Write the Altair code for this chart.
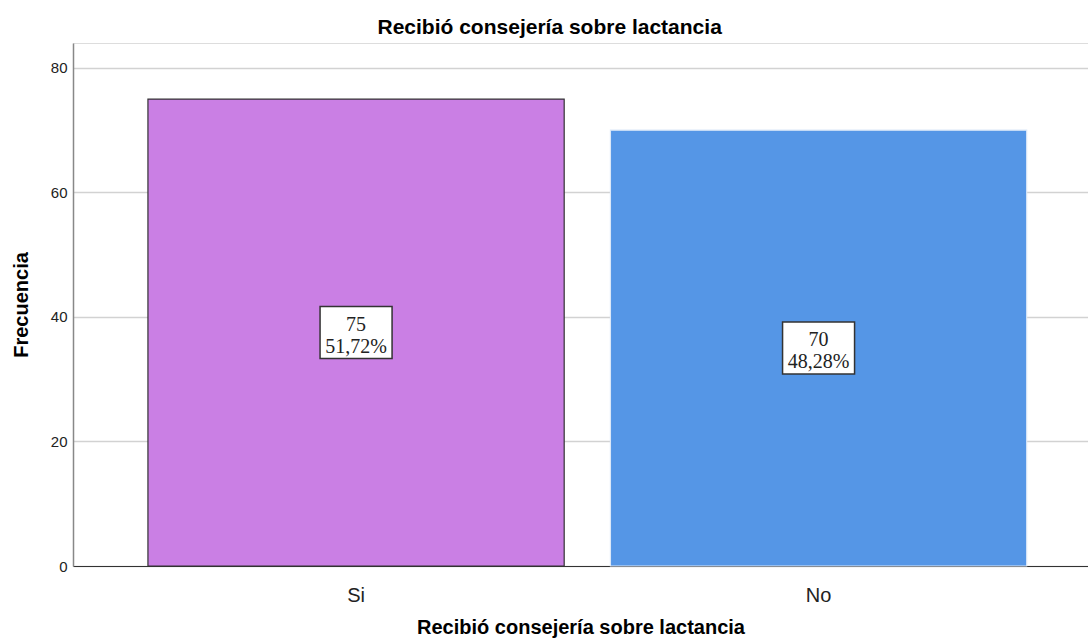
import altair as alt
import pandas as pd

categories = ["Si", "No"]
counts = [75, 70]
percents = ["51,72%", "48,28%"]
bar_colors = ["#CA7FE4", "#5596E6"]
bar_strokes = ["#333333", "#dce8f8"]

df = pd.DataFrame({
    "cat": categories,
    "n": counts,
    "pct": percents,
    "color": bar_colors,
    "stroke": bar_strokes,
})
df["mid"] = df["n"] / 2
df["label"] = df["n"].astype(str) + "\n" + df["pct"]

title_text = "Recibió consejería sobre lactancia"

x_enc = alt.X(
    "cat:N",
    sort=categories,
    scale=alt.Scale(paddingInner=0.1, paddingOuter=0.1473, align=0.55),
    axis=alt.Axis(
        title=title_text,
        labelAngle=0,
        labelFontSize=20,
        labelFont="Liberation Sans",
        labelColor="#222222",
        labelPadding=19,
        ticks=False,
        domainColor="#333333",
        domainWidth=1.2,
        titleFont="Liberation Sans",
        titleFontSize=20,
        titleFontWeight="bold",
        titleColor="#000000",
        titlePadding=12,
    ),
)

y_scale = alt.Scale(domain=[0, 84], nice=False)

bars = alt.Chart(df).mark_bar(strokeWidth=1.2).encode(
    x=x_enc,
    y=alt.Y(
        "n:Q",
        scale=y_scale,
        axis=alt.Axis(
            title="Frecuencia",
            values=[0, 20, 40, 60, 80],
            labelFontSize=15,
            labelFont="Liberation Sans",
            labelColor="#222222",
            labelPadding=6,
            ticks=False,
            grid=True,
            gridColor="#d2d2d2",
            gridWidth=1.5,
            domainColor="#888888",
            domainWidth=1.5,
            titleFont="Liberation Sans",
            titleFontSize=20,
            titleFontWeight="bold",
            titleColor="#000000",
            titlePadding=19,
        ),
    ),
    color=alt.Color("color:N", scale=None),
    stroke=alt.Stroke("stroke:N", scale=None),
)

boxes = alt.Chart(df).mark_point(
    shape="M-1,-0.722L1,-0.722L1,0.722L-1,0.722Z",
    size=5184,
    filled=True,
    fill="#ffffff",
    stroke="#333333",
    strokeWidth=1.5,
    opacity=1,
).encode(
    x=alt.X("cat:N", sort=categories),
    y=alt.Y("mid:Q", scale=y_scale),
)

labels = alt.Chart(df).mark_text(
    font="Liberation Serif",
    fontSize=20,
    lineBreak="\n",
    lineHeight=22,
    color="#222222",
    baseline="middle",
    align="center",
    dy=-8,
).encode(
    x=alt.X("cat:N", sort=categories),
    y=alt.Y("mid:Q", scale=y_scale),
    text="label:N",
)

chart = (
    alt.layer(bars, boxes, labels)
    .properties(
        width=1015,
        height=523,
        title=alt.TitleParams(
            text=title_text,
            font="Liberation Sans",
            fontSize=21,
            fontWeight="bold",
            color="#000000",
            anchor="middle",
            frame="bounds",
            offset=5,
        ),
        autosize=alt.AutoSizeParams(type="none"),
        padding={"left": 73, "top": 43, "right": 0, "bottom": 73},
    )
    .configure_view(stroke=None)
    .configure(background="#ffffff")
)

chart.save("out.html", embed_options={"renderer": "svg", "actions": False})
